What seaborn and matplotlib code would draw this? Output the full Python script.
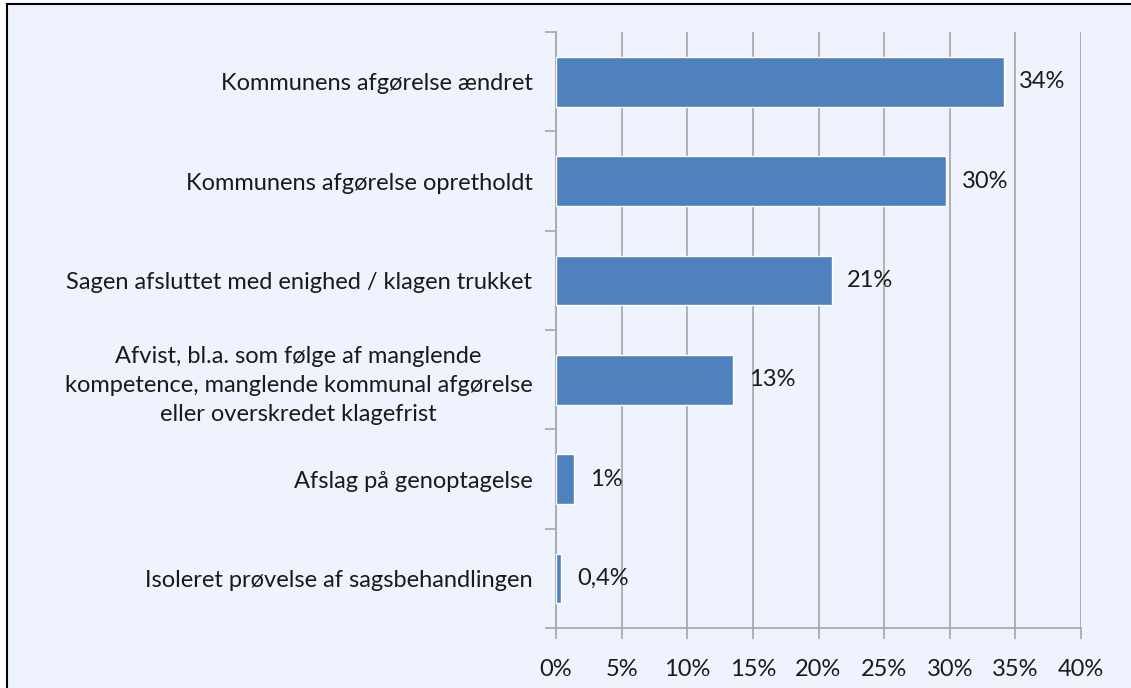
import matplotlib
matplotlib.use("Agg")
import matplotlib.pyplot as plt
import seaborn as sns
import pandas as pd
from matplotlib.patches import Rectangle
from matplotlib.ticker import FuncFormatter

categories = [
    "Kommunens afgørelse ændret",
    "Kommunens afgørelse opretholdt",
    "Sagen afsluttet med enighed / klagen trukket",
    "Afvist, bl.a. som følge af manglende\nkompetence, manglende kommunal afgørelse\neller overskredet klagefrist",
    "Afslag på genoptagelse",
    "Isoleret prøvelse af sagsbehandlingen",
]
values = [34.1, 29.7, 21.0, 13.5, 1.4, 0.4]
value_labels = ["34%", "30%", "21%", "13%", "1%", "0,4%"]
x_ticks = [0, 5, 10, 15, 20, 25, 30, 35, 40]

sns.set_theme(style="white")
plt.rcParams["font.family"] = ["Lato", "DejaVu Sans"]

FS = 17
txt_c = "#1a1a1a"
bg = "#EFF3FD"
fig = plt.figure(figsize=(11.31, 6.88), dpi=100)
fig.patch.set_facecolor("white")
fig.patches.append(Rectangle((7 / 1131, -0.1), 1.2, 1 - 4 / 688 + 0.1,
                             transform=fig.transFigure, facecolor=bg,
                             edgecolor="black", linewidth=1.5, zorder=-10))

ax = fig.add_axes([556 / 1131, 1 - 628 / 688, (1081 - 556) / 1131, (628 - 32) / 688])
ax.set_facecolor(bg)
ax.patch.set_alpha(0)

df = pd.DataFrame({"cat": categories, "val": values})
sns.barplot(data=df, x="val", y="cat", orient="h", color="#4F81BD",
            saturation=1, width=0.5, ax=ax, zorder=3)

ax.set_xlim(0, 40)
ax.set_ylim(len(categories) - 0.5, -0.5)
ax.set_xticks(x_ticks)
ax.xaxis.set_major_formatter(FuncFormatter(lambda v, p: f"{int(v)}%"))
ax.set_xlabel("")
ax.set_ylabel("")

grid_c = "#A6A6A6"
ax.grid(axis="x", color=grid_c, linewidth=1.2, zorder=0)
ax.set_axisbelow(True)
for s in ["top", "right"]:
    ax.spines[s].set_visible(False)
for s in ["left", "bottom"]:
    ax.spines[s].set_color(grid_c)
    ax.spines[s].set_linewidth(1.2)

# y ticks at category boundaries, labels at centers
ax.set_yticks([i - 0.5 for i in range(len(categories) + 1)])
ax.set_yticklabels([])
ax.set_yticks(range(len(categories)), minor=True)
labs = ax.set_yticklabels(categories, minor=True, fontsize=FS, color=txt_c,
                          ha="right", multialignment="center")
for t in labs:
    t.set_linespacing(1.45)
ax.tick_params(axis="y", which="major", direction="out", length=8, width=1.2, color=grid_c, left=True)
ax.tick_params(axis="y", which="minor", length=0, pad=17)
ax.tick_params(axis="x", direction="out", length=8, width=1.2, color=grid_c,
               labelsize=FS, labelcolor=txt_c, pad=14, bottom=True)

for i, (v, lab) in enumerate(zip(values, value_labels)):
    ax.text(v + 1.2, i, lab, va="center", ha="left", fontsize=FS, color=txt_c)

fig.savefig("out.png", dpi=100, facecolor=fig.get_facecolor())
